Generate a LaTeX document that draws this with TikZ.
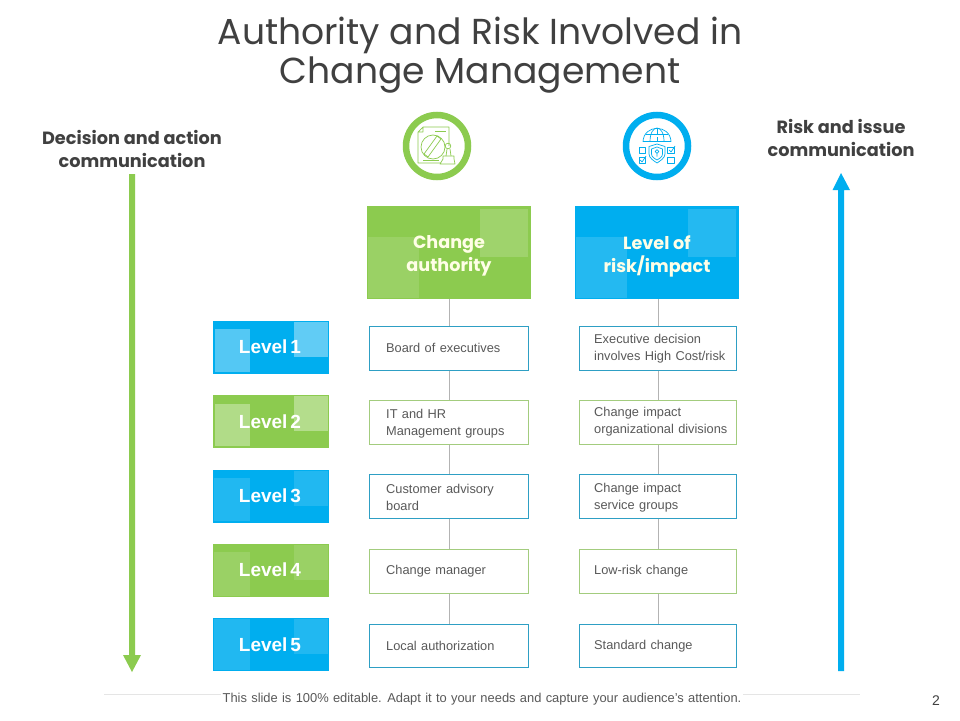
\documentclass[tikz,border=0pt]{standalone}
\usepackage{fontspec}
\setmainfont{Liberation Sans}
\newfontfamily\gothic{Poppins}
\definecolor{grn}{HTML}{8CCB4F}
\definecolor{blu}{HTML}{00AEEF}
\definecolor{tealb}{HTML}{2E9FC4}
\definecolor{grnb}{HTML}{A3CC7E}
\definecolor{ttl}{HTML}{404040}
\definecolor{bodyt}{HTML}{595959}
\definecolor{linkc}{HTML}{B3B3B3}
\tikzset{
 x=1pt,y=-1pt,
 titletext/.style={font=\gothic\fontsize{36.1}{39}\selectfont,text=ttl,align=center,inner sep=0pt},
 sidetext/.style={font=\gothic\bfseries\fontsize{17.7}{23}\selectfont,text=ttl,align=center,inner sep=0pt},
 headbox/.style={minimum width=164pt,minimum height=93pt,inner sep=0pt,anchor=north west},
 headtext/.style={font=\gothic\bfseries\fontsize{17.6}{23}\selectfont,text=white!90!yellow,align=center,inner sep=0pt},
 lvlbox/.style={minimum width=116pt,minimum height=52.5pt,inner sep=0pt,anchor=north west},
 lvltext/.style={font=\bfseries\fontsize{19}{20}\selectfont\spaceskip 3pt\relax,text=white,inner sep=0pt},
 cellA/.style={draw=#1,line width=1pt,fill=white,minimum width=159pt,minimum height=43.5pt,inner sep=0pt,anchor=north west},
 cellB/.style={draw=#1,line width=1pt,fill=white,minimum width=157pt,minimum height=43.5pt,inner sep=0pt,anchor=north west},
 celltext/.style={font=\fontsize{12.8}{16.8}\selectfont\spaceskip 4.4pt\relax,text=bodyt,align=left,anchor=west,inner sep=0pt},
 link/.style={draw=linkc,line width=0.8pt},
 ringg/.style={circle,draw=#1,line width=6.5pt,fill=white,minimum size=62pt,inner sep=0pt},
 iconl/.style={draw=#1,line width=0.7pt,line join=round},
 footer/.style={font=\fontsize{12.9}{14}\selectfont\spaceskip 4.3pt\relax,text=bodyt,inner sep=2pt,fill=white},
}
\begin{document}
\begin{tikzpicture}
\useasboundingbox (0,0) rectangle (960,720);
\fill[white] (0,0) rectangle (960,720);
% title
\node[titletext] (title) at (480,55) {Authority and Risk Involved in\\Change Management};
% side labels
\node[sidetext] (sideL) at (132,149) {Decision and action\\communication};
\node[sidetext] (sideR) at (841,138) {Risk and issue\\communication};
% big arrows
\fill[grn] (129,174) -- (135,174) -- (135,655) -- (141,655) -- (132,672) -- (123,655) -- (129,655) -- cycle;
\fill[blu] (838,671) -- (844,671) -- (844,190) -- (850,190) -- (841,173) -- (832.5,190) -- (838,190) -- cycle;
% icon rings
\node[ringg=grn] (ringA) at (437,146) {};
\node[ringg=blu] (ringB) at (657,146) {};
% green icon: document and stamp
 \draw[iconl=grn] (423,127) -- (449,127) -- (449,146) (441,163) -- (418,163) -- (418,132) -- (423,127) -- (423,132) -- (418,132);
 \draw[iconl=grn] (435,131) -- (446,131) (423,160) -- (439,160);
 \draw[iconl=grn] (433,147) circle (12);
 \draw[iconl=grn] (424,154) -- (437,136) -- (441,139) -- (428,157) -- cycle;
 \draw[iconl=grn] (448,146) circle (2.8);
 \draw[iconl=grn] (447,149) -- (446,156) (450,149) -- (451,156);
 \draw[iconl=grn] (443,156) -- (454,156) -- (454,159) -- (455,164) -- (440,164) -- (443,159) -- cycle;
% blue icon: globe, shield, check boxes
 \draw[iconl=blu] (643,141.5) .. controls (644,124) and (670,124) .. (671,141.5) -- cycle;
 \draw[iconl=blu] (650,141.5) .. controls (650,132) and (654,128) .. (657,128) .. controls (660,128) and (664,132) .. (664,141.5);
 \draw[iconl=blu] (657,128) -- (657,134) (657,137) -- (657,141);
 \draw[iconl=blu] (646,134) -- (668,134);
 \draw[iconl=blu] (657,144) -- (665,146.5) -- (665,154) .. controls (665,158) and (660,161) .. (657,163) .. controls (654,161) and (649,158) .. (649,154) -- (649,146.5) -- cycle;
 \draw[iconl=blu] (657,147) -- (662.5,149) -- (662.5,154) .. controls (662.5,157) and (659,159) .. (657,160) .. controls (655,159) and (651.5,157) .. (651.5,154) -- (651.5,149) -- cycle;
 \draw[iconl=blu] (657,151.5) circle (1.8) (657,153.3) -- (657,156.5);
 \draw[iconl=blu] (639,147) rectangle (645.5,153.5);
 \draw[iconl=blu] (667.5,147) rectangle (674,153.5);
 \draw[iconl=blu] (639,157) rectangle (645.5,163.5);
 \draw[iconl=blu] (667.5,157) rectangle (674,163.5);
 \draw[iconl=blu] (669,150) -- (671,152) -- (675,146);
 \draw[iconl=blu] (640,160) -- (642,162) -- (646,156);
% header boxes
\node[headbox,fill=grn] (headA) at (367,206) {};
\fill[white,opacity=0.17] (480,209) rectangle (528,257);
\fill[white,opacity=0.13] (368,237) rectangle (419,298);
\node[headtext] (headAt) at (449,256) {Change\\authority};
\node[headbox,fill=blu] (headB) at (575,206) {};
\fill[white,opacity=0.14] (688,209) rectangle (736,257);
\fill[white,opacity=0.14] (576,237) rectangle (627,298);
\node[headtext] (headBt) at (657,256) {Level of\\risk/impact};
% level boxes
\node[lvlbox,fill=blu] (lv1) at (213,321) {};
\fill[white,opacity=0.33] (215,329) rectangle (250,372);
\fill[white,opacity=0.38] (294,322) rectangle (328,357);
\node[lvltext] (lv1t) at (270,347) {Level 1};
\node[lvlbox,fill=grn] (lv2) at (213,395) {};
\fill[white,opacity=0.33] (215,404) rectangle (250,446);
\fill[white,opacity=0.35] (294,396) rectangle (328,431);
\node[lvltext] (lv2t) at (270,422) {Level 2};
\node[lvlbox,fill=blu] (lv3) at (213,470) {};
\fill[white,opacity=0.13] (214,478) rectangle (250,521);
\fill[white,opacity=0.13] (294,471) rectangle (328,506);
\node[lvltext] (lv3t) at (270,496) {Level 3};
\node[lvlbox,fill=grn] (lv4) at (213,544) {};
\fill[white,opacity=0.13] (214,552) rectangle (250,596);
\fill[white,opacity=0.13] (294,545) rectangle (328,580);
\node[lvltext] (lv4t) at (270,570) {Level 4};
\node[lvlbox,fill=blu] (lv5) at (213,618) {};
\fill[white,opacity=0.13] (214,619) rectangle (250,670);
\fill[white,opacity=0.13] (294,619) rectangle (328,654);
\node[lvltext] (lv5t) at (270,645) {Level 5};
% cells
\node[cellA=tealb] (a1) at (369,326) {};
\node[cellA=grnb] (a2) at (369,400) {};
\node[cellA=tealb] (a3) at (369,474) {};
\node[cellA=grnb] (a4) at (369,549) {};
\node[cellA=tealb] (a5) at (369,623.5) {};
\node[cellB=tealb] (b1) at (579,326) {};
\node[cellB=grnb] (b2) at (579,400) {};
\node[cellB=tealb] (b3) at (579,474) {};
\node[cellB=grnb] (b4) at (579,549) {};
\node[cellB=tealb] (b5) at (579,623.5) {};
% connectors
\draw[link] (headA.south -| a1.north) -- (a1.north);
\draw[link] (a1) -- (a2);
\draw[link] (a2) -- (a3);
\draw[link] (a3) -- (a4);
\draw[link] (a4) -- (a5);
\draw[link] (headB.south -| b1.north) -- (b1.north);
\draw[link] (b1) -- (b2);
\draw[link] (b2) -- (b3);
\draw[link] (b3) -- (b4);
\draw[link] (b4) -- (b5);
% cell labels
\node[celltext] (a1t) at (386,347.5) {Board of executives};
\node[celltext] (a2t) at (386,424) {IT and HR\\Management groups};
\node[celltext] (a3t) at (386,497.5) {Customer advisory\\board};
\node[celltext] (a4t) at (386,571) {Change manager};
\node[celltext] (a5t) at (386,645.5) {Local authorization};
\node[celltext] (b1t) at (594,349) {Executive decision\\involves High Cost/risk};
\node[celltext] (b2t) at (594,421.5) {Change impact\\organizational divisions};
\node[celltext] (b3t) at (594,497.5) {Change impact\\service groups};
\node[celltext] (b4t) at (594,571) {Low-risk change};
\node[celltext] (b5t) at (594,646) {Standard change};
% footer
\coordinate (ruleL) at (104,694);
\coordinate (ruleR) at (860,694);
\draw[draw=black!10,line width=0.6pt] (ruleL) -- (ruleR);
\node[footer] (foot) at (482,699.5) {This slide is 100\% editable. Adapt it to your needs and capture your audience's attention.};
\node[font=\fontsize{14}{16}\selectfont,text=ttl,inner sep=0pt] (pg) at (936,701) {2};
\end{tikzpicture}
\end{document}
